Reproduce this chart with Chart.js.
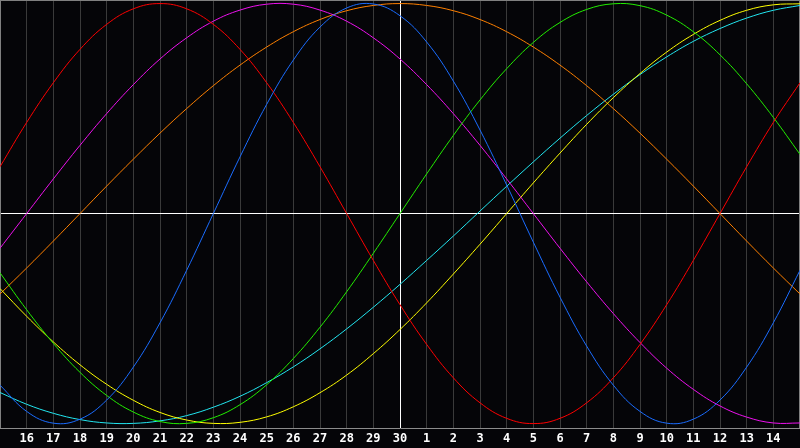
<!DOCTYPE html>
<html>
<head>
<meta charset="utf-8">
<script src="https://cdn.jsdelivr.net/npm/chart.js@4/dist/chart.umd.min.js"></script>
<style>
html,body{margin:0;padding:0;background:#050508;}
canvas{display:block;}
</style>
</head>
<body>
<canvas id="c" width="800" height="448"></canvas>
<script>
// Day labels along the bottom (first and last are the chart edges, not labelled)
const days = ['15','16','17','18','19','20','21','22','23','24','25','26','27','28','29','30',
              '1','2','3','4','5','6','7','8','9','10','11','12','13','14','15'];

// Series values (percent, -100..100), one per day
const redVals     = [22.3,43.4,62.3,78.2,90.1,97.5,100,97.5,90.1,78.2,62.3,43.4,22.3,0,-22.3,-43.4,-62.3,-78.2,-90.1,-97.5,-100,-97.5,-90.1,-78.2,-62.3,-43.4,-22.3,0,22.3,43.4,62.3];
const greenVals   = [-28.2,-45.8,-61.8,-75.6,-86.6,-94.5,-99.0,-99.9,-97.2,-91.0,-81.5,-69.0,-54.1,-37.2,-18.9,0,18.9,37.2,54.1,69.0,81.5,91.0,97.2,99.9,99.0,94.5,86.6,75.6,61.8,45.8,28.2];
const blueVals    = [-81.7,-94.2,-99.8,-97.9,-88.8,-73.1,-52.0,-27.0,0,27.0,52.0,73.1,88.8,97.9,99.8,94.2,81.7,63.1,39.8,13.6,-13.6,-39.8,-63.1,-81.7,-94.2,-99.8,-97.9,-88.8,-73.1,-52.0,-27.0];
const magentaVals = [-16.5,0,16.5,32.5,47.6,61.4,73.6,83.7,91.6,96.9,99.7,99.7,96.9,91.6,83.7,73.6,61.4,47.6,32.5,16.5,0,-16.5,-32.5,-47.6,-61.4,-73.6,-83.7,-91.6,-96.9,-99.7,-99.7];
const yellowVals  = [-35.7,-48.9,-61.1,-72.0,-81.3,-88.9,-94.7,-98.3,-99.9,-99.4,-96.8,-92.0,-85.3,-76.9,-66.7,-55.2,-42.5,-28.8,-14.6,0,14.6,28.8,42.5,55.2,66.7,76.9,85.3,92.0,96.8,99.4,99.9];
const orangeVals  = [-38.3,-25.9,-13.1,0,13.1,25.9,38.3,50.0,60.9,70.7,79.3,86.6,92.4,96.6,99.1,100,99.1,96.6,92.4,86.6,79.3,70.7,60.9,50.0,38.3,25.9,13.1,0,-13.1,-25.9,-38.3];
const cyanVals    = [-85.2,-90.8,-95.1,-98.1,-99.7,-99.9,-98.7,-96.2,-92.2,-87.0,-80.5,-73.0,-64.4,-54.9,-44.6,-33.7,-22.3,-10.7,1.2,13.0,24.6,35.9,46.7,56.8,66.2,74.6,82.0,88.1,93.1,96.8,99.1];

const series = [
  {name:'Physical',     data: blueVals,    color:'#1a6cff'},
  {name:'Emotional',    data: redVals,     color:'#ff0000'},
  {name:'Intellectual', data: greenVals,   color:'#22ee00'},
  {name:'Intuitive',    data: magentaVals, color:'#ee11ee'},
  {name:'Aesthetic',    data: yellowVals,  color:'#ffff00'},
  {name:'Awareness',    data: orangeVals,  color:'#ff8000'},
  {name:'Spiritual',    data: cyanVals,    color:'#22e6f0'}
];

const framePlugin = {
  id: 'frame',
  beforeDraw(chart) {
    const c = chart.ctx;
    c.save();
    c.fillStyle = '#050508';
    c.fillRect(0, 0, chart.width, chart.height);
    c.restore();
  },
  beforeDatasetsDraw(chart) {
    const c = chart.ctx, a = chart.chartArea;
    c.save();
    c.strokeStyle = '#808080';
    c.lineWidth = 1;
    c.beginPath();
    c.moveTo(a.left, a.top + 0.5); c.lineTo(a.right, a.top + 0.5);
    c.moveTo(a.left + 0.5, a.top); c.lineTo(a.left + 0.5, a.bottom);
    c.moveTo(a.right - 0.5, a.top); c.lineTo(a.right - 0.5, a.bottom);
    c.stroke();
    c.restore();
  }
};

new Chart(document.getElementById('c'), {
  type: 'line',
  data: {
    labels: days,
    datasets: series.map(s => ({
      label: s.name,
      data: s.data,
      borderColor: s.color,
      borderWidth: 1,
      pointRadius: 0,
      tension: 0.4,
      fill: false
    }))
  },
  options: {
    responsive: false,
    animation: false,
    layout: {padding: 0, autoPadding: false},
    plugins: {legend: {display: false}, tooltip: {enabled: false}},
    scales: {
      x: {
        type: 'category',
        offset: false,
        afterFit(scale) { scale.height = 20; scale.paddingLeft = 0; scale.paddingRight = 0; },
        grid: {
          color: ctx => ctx.index === 15 ? '#ffffff' : (ctx.index === 0 ? '#808080' : '#3a3a3a'),
          lineWidth: 1,
          drawTicks: false
        },
        border: {display: true, color: '#8c8c8c'},
        ticks: {
          autoSkip: false,
          maxRotation: 0,
          minRotation: 0,
          padding: 4,
          color: '#ffffff',
          font: {family: 'DejaVu Sans Mono', size: 12, weight: 'bold'},
          callback: (v, i) => (i === 0 || i === days.length - 1) ? '' : days[i]
        }
      },
      y: {
        min: -102.1,
        max: 101.7,
        afterFit(scale) { scale.width = 0; },
        afterBuildTicks(axis) { axis.ticks = [{value: 0}]; },
        grid: {color: '#ffffff', lineWidth: 1, drawTicks: false},
        border: {display: false},
        ticks: {display: false}
      }
    }
  },
  plugins: [framePlugin]
});
</script>
</body>
</html>
